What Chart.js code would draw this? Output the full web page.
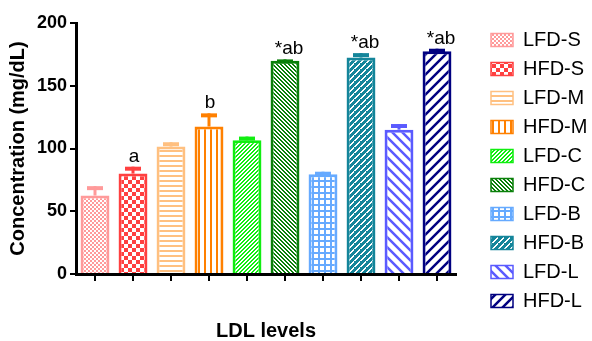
<!DOCTYPE html>
<html>
<head>
<meta charset="utf-8">
<script src="https://cdn.jsdelivr.net/npm/chart.js@4.4.0/dist/chart.umd.min.js"></script>
<style>
  html, body { margin: 0; padding: 0; background: #fff; }
  #wrap { width: 592px; height: 341px; }
</style>
</head>
<body>
<div id="wrap"><canvas id="ldlChart" width="592" height="341"></canvas></div>
<script>
// values (mean + upper SEM)
const groups = ['LFD-S', 'HFD-S', 'LFD-M', 'HFD-M', 'LFD-C', 'HFD-C', 'LFD-B', 'HFD-B', 'LFD-L', 'HFD-L'];
const means = [62.5, 80, 101.5, 117.5, 106.5, 170, 79.5, 172.5, 115, 177.5];
const sems = [7.5, 5.5, 3.5, 10.5, 3, 1, 2, 3.5, 4.5, 2];
const marks = ['', 'a', '', 'b', '', '*ab', '', '*ab', '', '*ab'];
const yTickValues = [0, 50, 100, 150, 200];

const colors = ['#FF9A9A', '#FF4040', '#FFC080', '#FF8000', '#11EE11', '#0A800A', '#66AAFF', '#14859A', '#5A5AFF', '#000080'];
const kinds = ['fineCheck', 'check', 'hlines', 'vlines', 'diagUp', 'diagDown', 'grid', 'dash', 'wideDown', 'wideUp'];

Chart.defaults.font.family = 'Arial, "Liberation Sans", sans-serif';
Chart.defaults.color = '#000';

// small tiles for the hatch fills
function makePattern(kind, color) {
  const sizes = { fineCheck: 4, check: 8, hlines: 5, vlines: 6, diagUp: 4, diagDown: 4, grid: 6, dash: 6, wideDown: 10, wideUp: 10 };
  const s = sizes[kind];
  const c = document.createElement('canvas');
  c.width = s;
  c.height = s;
  const g = c.getContext('2d');
  g.fillStyle = '#fff';
  g.fillRect(0, 0, s, s);
  g.fillStyle = color;
  g.strokeStyle = color;
  if (kind === 'fineCheck' || kind === 'check') {
    const h = s / 2;
    g.fillRect(0, 0, s, s);
    g.fillStyle = '#fff';
    g.fillRect(0, 0, h, h);
    g.fillRect(h, h, h, h);
  } else if (kind === 'hlines') {
    g.fillRect(0, 0, s, 2);
  } else if (kind === 'vlines') {
    g.fillRect(0, 0, 2, s);
  } else if (kind === 'diagUp' || kind === 'diagDown') {
    for (let y = 0; y < s; y++) {
      const x = kind === 'diagUp' ? s - 1 - y : y;
      g.fillRect(x, y, 1, 1);
      g.fillRect((x + 1) % s, y, 1, 1);
    }
  } else if (kind === 'grid') {
    g.fillRect(0, 0, s, 2);
    g.fillRect(0, 0, 2, s);
  } else if (kind === 'dash') {
    g.fillRect(0, 0, s, s);
    g.fillStyle = '#fff';
    for (let k = 0; k < 3; k++) {
      g.fillRect(k, 2 - k, 2, 1);
      g.fillRect((3 + k) % s, 5 - k, 2, 1);
    }
  } else {
    g.lineWidth = 2.5;
    g.beginPath();
    if (kind === 'wideUp') {
      g.moveTo(0, s); g.lineTo(s, 0);
      g.moveTo(-1, 1); g.lineTo(1, -1);
      g.moveTo(s - 1, s + 1); g.lineTo(s + 1, s - 1);
    } else {
      g.moveTo(0, 0); g.lineTo(s, s);
      g.moveTo(-1, s - 1); g.lineTo(1, s + 1);
      g.moveTo(s - 1, -1); g.lineTo(s + 1, 1);
    }
    g.stroke();
  }
  return g.createPattern(c, 'repeat');
}

const fills = kinds.map((k, i) => makePattern(k, colors[i]));

// error bars and significance letters
const errorBarPlugin = {
  id: 'errorBars',
  afterDatasetsDraw(chart) {
    const ctx = chart.ctx;
    const y = chart.scales.y;
    const bars = chart.getDatasetMeta(0).data;
    ctx.save();
    bars.forEach((bar, i) => {
      const top = y.getPixelForValue(means[i]);
      const end = y.getPixelForValue(means[i] + sems[i]);
      ctx.strokeStyle = colors[i];
      ctx.lineWidth = 3;
      ctx.beginPath();
      ctx.moveTo(bar.x, top);
      ctx.lineTo(bar.x, end);
      ctx.stroke();
      ctx.lineWidth = 4;
      ctx.beginPath();
      ctx.moveTo(bar.x - 8, end + 2);
      ctx.lineTo(bar.x + 8, end + 2);
      ctx.stroke();
      if (marks[i]) {
        ctx.fillStyle = '#000';
        ctx.font = '19px Arial, "Liberation Sans", sans-serif';
        ctx.textAlign = 'center';
        ctx.textBaseline = 'alphabetic';
        const dx = marks[i].startsWith('*') ? 4 : 1;
        ctx.fillText(marks[i], bar.x + dx, end - 5);
      }
    });
    ctx.restore();
  }
};

// put the legend column where the figure has it
const legendPlace = {
  id: 'legendPlace',
  afterLayout(chart) {
    const lg = chart.legend;
    lg.left = 482;
    lg.right = 592;
    lg.width = 110;
    lg.top = 21;
  }
};

new Chart(document.getElementById('ldlChart'), {
  type: 'bar',
  data: {
    labels: groups,
    datasets: [{
      data: means,
      backgroundColor: fills,
      borderColor: colors,
      borderWidth: 3,
      barPercentage: 0.76,
      categoryPercentage: 1
    }]
  },
  options: {
    responsive: false,
    animation: false,
    layout: { padding: { top: 23, left: 0, right: 0, bottom: 0 } },
    plugins: {
      tooltip: { enabled: false },
      legend: {
        position: 'right',
        align: 'start',
        labels: {
          boxWidth: 22,
          boxHeight: 13,
          padding: 9,
          color: '#000',
          font: { size: 20 },
          generateLabels: () => groups.map((name, i) => ({
            text: name,
            fillStyle: fills[i],
            strokeStyle: colors[i],
            lineWidth: 1.5,
            hidden: false,
            index: i,
            datasetIndex: 0
          }))
        }
      }
    },
    scales: {
      x: {
        grid: { offset: false, drawOnChartArea: false, tickLength: 7, color: '#000', lineWidth: 2 },
        border: { color: '#000', width: 3 },
        ticks: { display: false },
        title: { display: true, text: 'LDL levels', font: { size: 20, weight: 'bold', lineHeight: 1 }, padding: 0 },
        afterFit(scale) { scale.height = 67; }
      },
      y: {
        min: 0,
        max: 200,
        afterBuildTicks(scale) { scale.ticks = yTickValues.map(v => ({ value: v })); },
        grid: { drawOnChartArea: false, tickLength: 6, color: '#000', lineWidth: 2 },
        border: { color: '#000', width: 3 },
        ticks: { font: { size: 18, weight: 'bold' }, padding: 3 },
        title: { display: true, text: 'Concentration (mg/dL)', font: { size: 20, weight: 'bold' }, padding: { top: 6, bottom: 0 } },
        afterFit(scale) { scale.width = 76; }
      },
      y2: {
        position: 'right',
        grid: { display: false },
        border: { display: false },
        ticks: { display: false },
        afterFit(scale) {
          const lw = scale.chart.legend ? scale.chart.legend.width : 0;
          scale.width = Math.max(0, 136 - lw);
        }
      }
    }
  },
  plugins: [errorBarPlugin, legendPlace]
});
</script>
</body>
</html>
